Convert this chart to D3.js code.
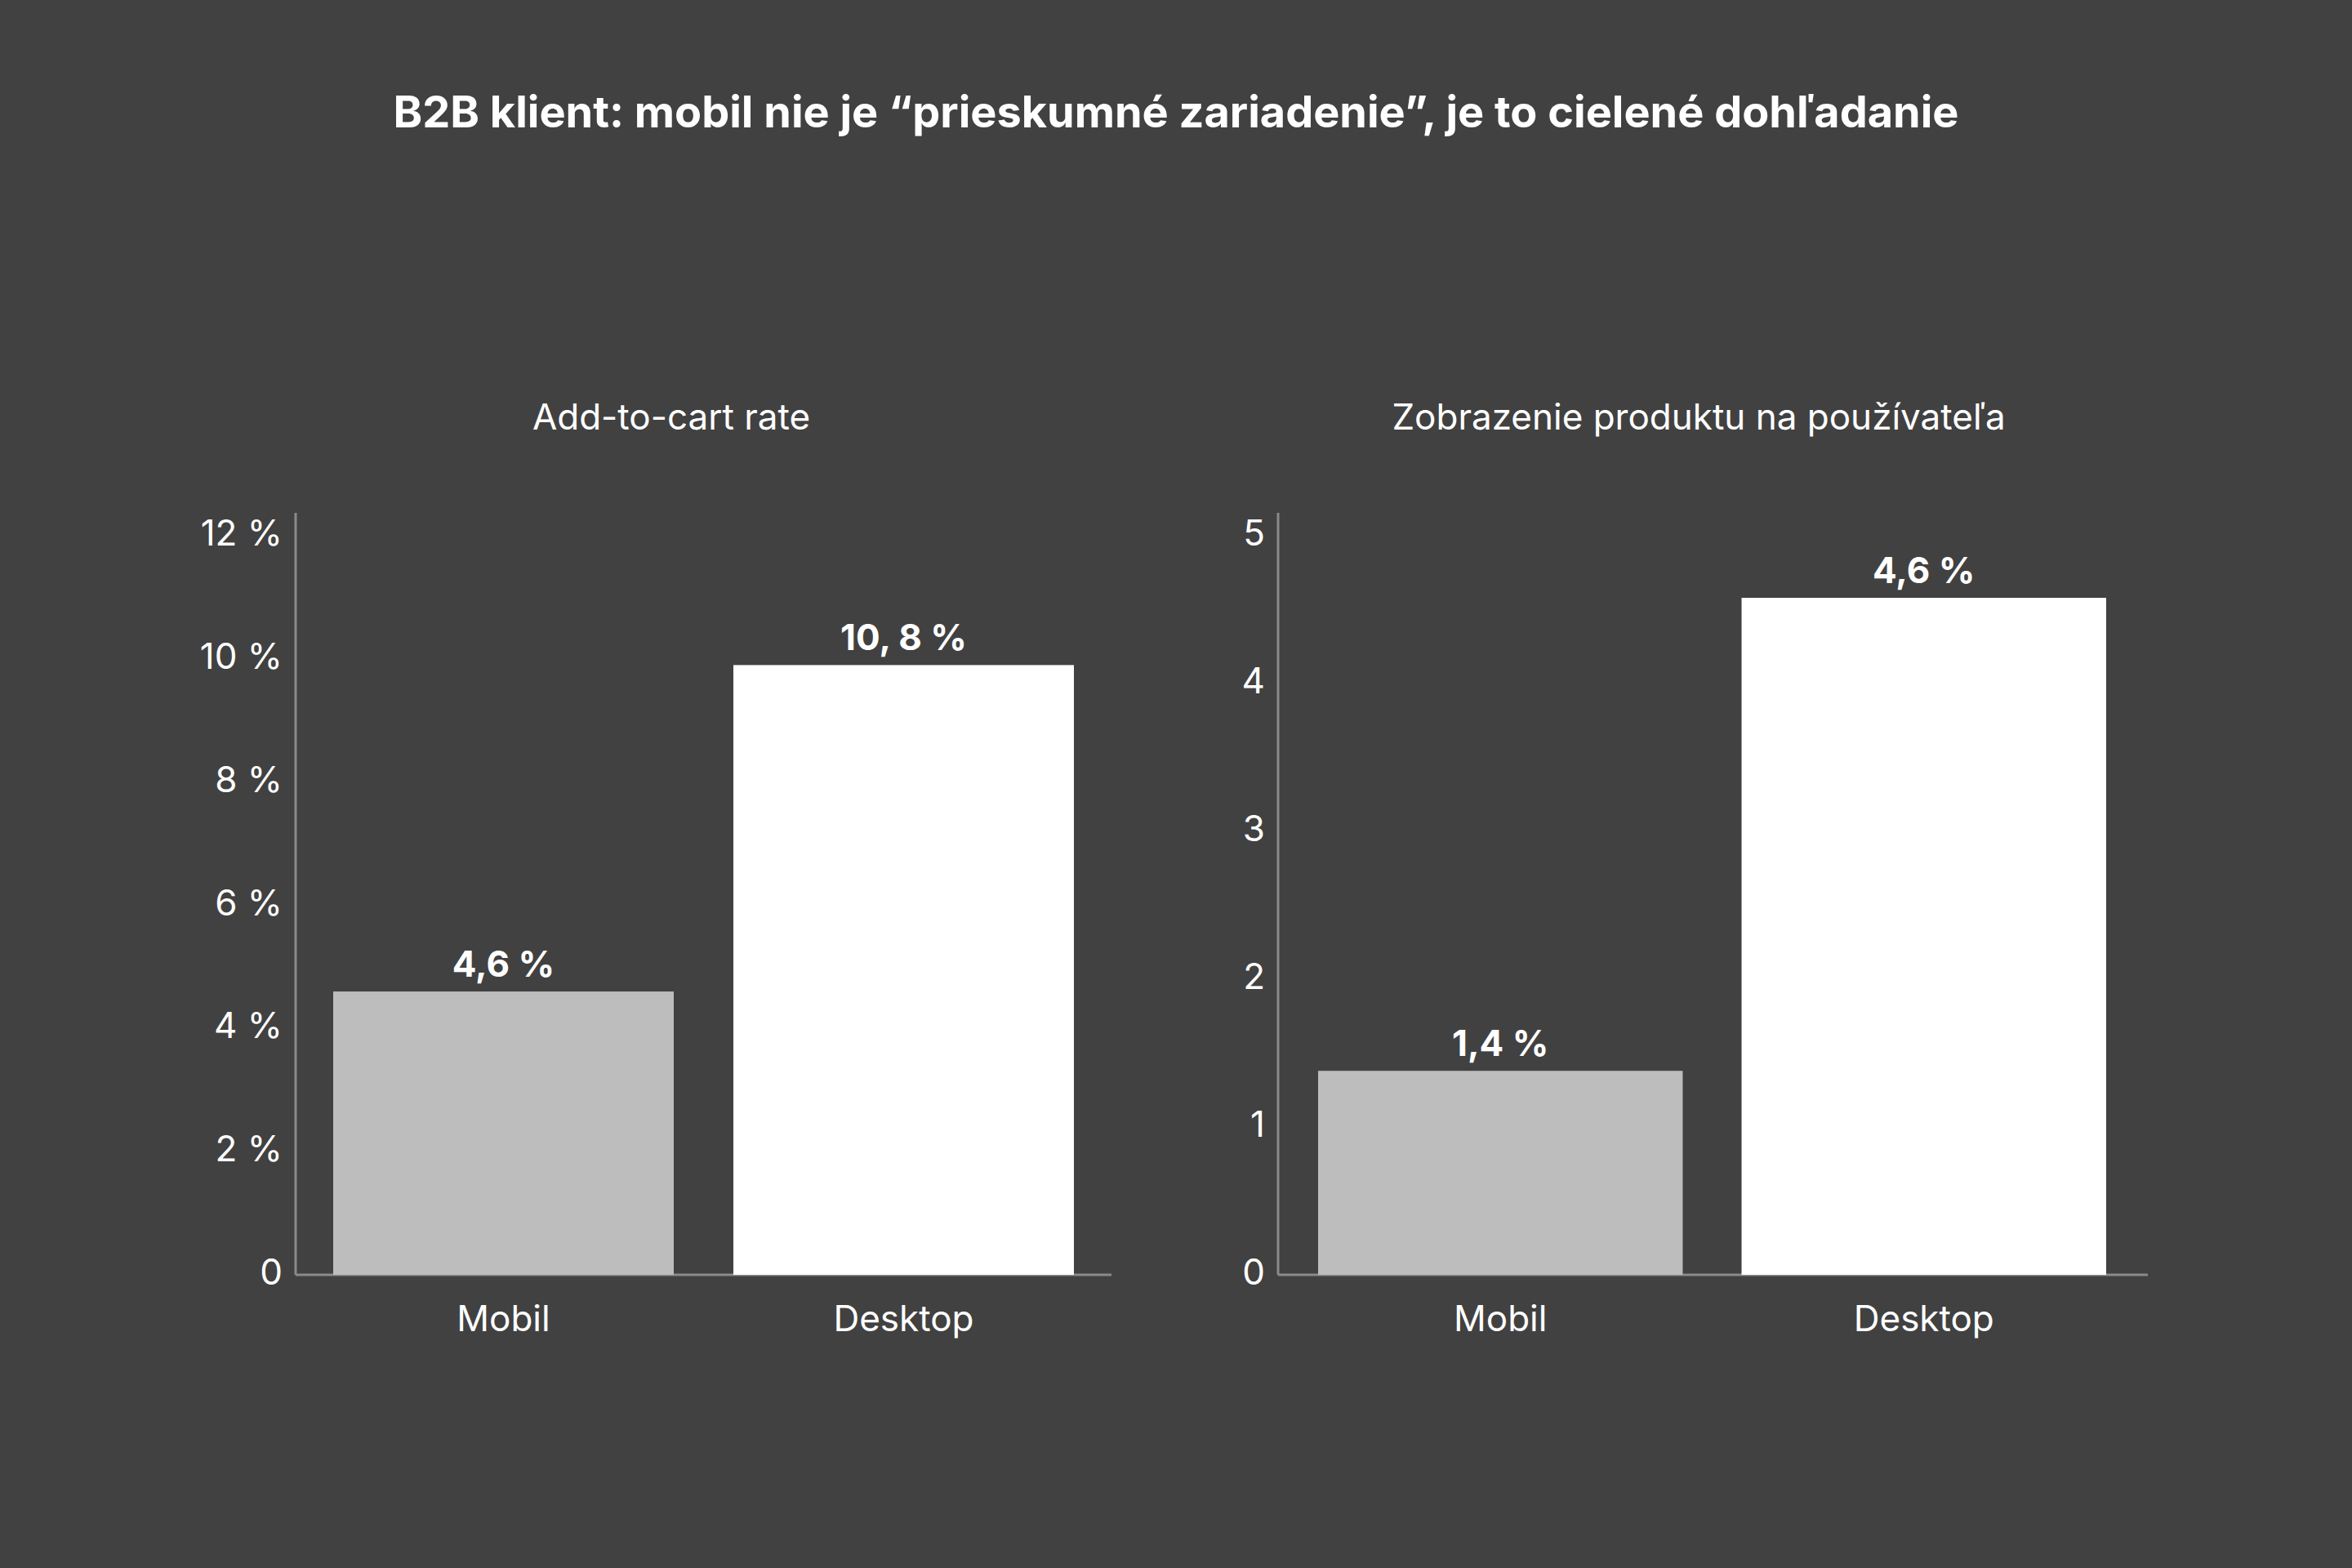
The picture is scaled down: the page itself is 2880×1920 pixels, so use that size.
<!DOCTYPE html><html><head><meta charset="utf-8">
<script src="https://cdn.jsdelivr.net/npm/d3@7"></script>
<style>body{margin:0;background:#414141}svg{display:block}text{font-family:Inter,"Open Sans",sans-serif;fill:#fff}</style>
</head><body><svg id="c" width="2880" height="1920"></svg><script>
const categories=["Mobil","Desktop"];
const cartValues=[4.6,9.9];
const cartLabels=["4,6 %","10, 8 %"];
const cartTicks=[0,2,4,6,8,10,12];
const viewValues=[1.38,4.58];
const viewLabels=["1,4 %","4,6 %"];
const viewTicks=[0,1,2,3,4,5];
const colors=["#bdbdbd","#ffffff"];
const svg=d3.select("#c");
svg.append("rect").attr("width",2880).attr("height",1920).attr("fill","#414141");
svg.append("text").attr("x",1440).attr("y",141).attr("text-anchor","middle").attr("dominant-baseline","middle")
 .attr("font-size",54).attr("font-weight",700).text("B2B klient: mobil nie je “prieskumné zariadenie”, je to cielené dohľadanie");
function panel(o){
 const y=d3.scaleLinear().domain([0,o.max]).range([1561,656]);
 const x=d3.scaleBand().domain(categories).range(o.br).paddingInner(o.pi).paddingOuter(0);
 const g=svg.append("g");
 g.append("text").attr("x",o.tx).attr("y",514).attr("text-anchor","middle").attr("dominant-baseline","middle").attr("font-size",44).text(o.title);
 g.append("line").attr("x1",o.ax).attr("x2",o.ax).attr("y1",628).attr("y2",1561).attr("stroke","#8a8a8a").attr("stroke-width",3);
 g.append("line").attr("x1",o.ax).attr("x2",o.axEnd).attr("y1",1561).attr("y2",1561).attr("stroke","#8a8a8a").attr("stroke-width",3);
 g.selectAll(".t").data(o.ticks).join("text").attr("x",o.ax-16).attr("y",d=>y(d)).attr("text-anchor","end").attr("dominant-baseline","middle")
  .attr("font-size",44).text(d=>o.fmt(d));
 g.selectAll(".b").data(o.vals).join("rect").attr("x",(d,i)=>x(categories[i])).attr("width",x.bandwidth())
  .attr("y",d=>y(d)).attr("height",d=>1561-y(d)).attr("fill",(d,i)=>colors[i]);
 g.selectAll(".l").data(o.vals).join("text").attr("x",(d,i)=>x(categories[i])+x.bandwidth()/2).attr("y",d=>y(d)-18)
  .attr("text-anchor","middle").attr("font-size",44).attr("font-weight",700).text((d,i)=>o.labels[i]);
 g.selectAll(".c").data(categories).join("text").attr("x",d=>x(d)+x.bandwidth()/2).attr("y",1618).attr("text-anchor","middle")
  .attr("dominant-baseline","middle").attr("font-size",44).text(d=>d);
}
panel({max:12,br:[408,1315],pi:0.149,ax:362,axEnd:1361,tx:822,title:"Add-to-cart rate",ticks:cartTicks,fmt:d=>d===0?"0":d+" %",vals:cartValues,labels:cartLabels});
panel({max:5,br:[1614,2579],pi:0.139,ax:1565,axEnd:2630,tx:2080,title:"Zobrazenie produktu na používateľa",ticks:viewTicks,fmt:d=>String(d),vals:viewValues,labels:viewLabels});
</script></body></html>
